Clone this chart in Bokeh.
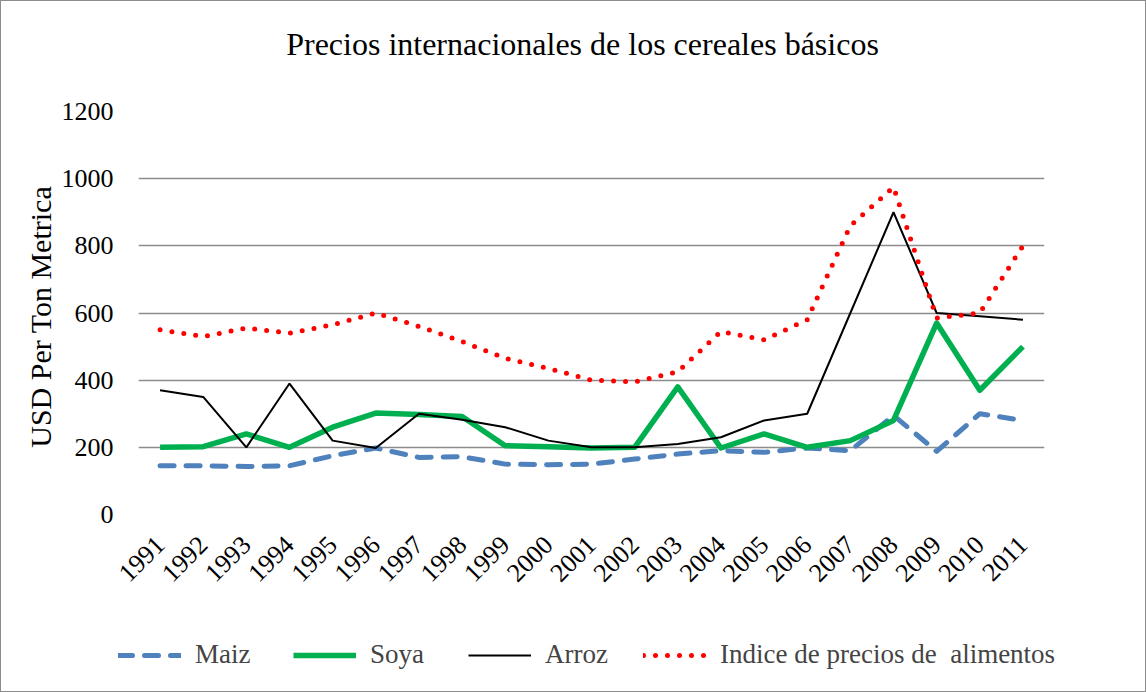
from bokeh.plotting import figure
from bokeh.models import ColumnDataSource, Legend, LegendItem, FixedTicker, Range1d, Title
from bokeh.layouts import column
from bokeh.embed import file_html
from bokeh.resources import INLINE
import math

years = [str(y) for y in range(1991, 2012)]
maiz = [145, 145, 143, 145, 175, 198, 170, 172, 150, 148, 150, 165, 180, 190, 185, 198, 190, 295, 188, 300, 280]
soya = [200, 202, 240, 200, 260, 302, 298, 292, 205, 202, 198, 200, 380, 198, 240, 200, 220, 280, 570, 370, 500]
arroz = [370, 350, 200, 390, 220, 198, 300, 282, 260, 220, 200, 200, 210, 230, 280, 300, 600, 900, 600, 590, 580]
indice = [550, 530, 555, 540, 565, 600, 560, 515, 465, 435, 400, 395, 425, 545, 520, 580, 860, 975, 585, 600, 800]
y_ticks = [0, 200, 400, 600, 800, 1000, 1200]
series_cols = ["maiz", "soya", "arroz", "indice"]
series_names = ["Maiz", "Soya", "Arroz", "Indice de precios de  alimentos"]
title_text = "Precios internacionales de los cereales básicos"

FONT = "Liberation Serif"
STYLES = [
    dict(line_color="#4F81BD", line_width=5, line_dash="14 12", line_cap="round", line_join="round"),
    dict(line_color="#00B050", line_width=5.5, line_join="round"),
    dict(line_color="black", line_width=2),
    dict(line_color="#FF0000", line_width=5, line_dash="0 12", line_cap="round"),
]

src = ColumnDataSource(dict(x=years, maiz=maiz, soya=soya, arroz=arroz, indice=indice))

W = 1144
H_HEAD = 85
H_MAIN = 534
H_LEG = 71


def strip(height, **kw):
    f = figure(width=W, height=height, x_range=years, y_range=Range1d(5000, 6000),
               output_backend="svg", toolbar_location=None,
               x_axis_type=None, y_axis_type=None, **kw)
    f.frame_align = False
    f.outline_line_color = None
    f.xgrid.grid_line_color = None
    f.ygrid.grid_line_color = None
    f.background_fill_color = "white"
    f.border_fill_color = "white"
    return f


# header strip with the title
h = strip(H_HEAD, min_border_left=18, min_border_right=0, min_border_top=0, min_border_bottom=0)
h.title = Title(text=title_text, align="center",
                text_font=FONT, text_font_size="32px", text_font_style="normal",
                text_color="black", standoff=45)

# main chart
p = figure(x_range=years, y_range=Range1d(0, 1200), width=W, height=H_MAIN,
           output_backend="svg", toolbar_location=None, title_location=None,
           min_border_left=137, min_border_right=101, min_border_top=25, min_border_bottom=106)
p.frame_align = False
p.outline_line_color = None
p.background_fill_color = "white"
p.border_fill_color = "white"

p.xgrid.grid_line_color = None
p.ygrid.grid_line_color = "#8c8c8c"
p.ygrid.grid_line_width = 1.5
p.yaxis.ticker = FixedTicker(ticks=y_ticks)

for ax in (p.xaxis[0], p.yaxis[0]):
    ax.axis_line_color = None
    ax.major_tick_line_color = None
    ax.minor_tick_line_color = None
    ax.major_label_text_font = FONT
    ax.major_label_text_font_size = "26px"
    ax.major_label_text_color = "black"

p.yaxis.major_label_standoff = 19
p.xaxis.major_label_orientation = math.pi / 4
p.xaxis.major_label_standoff = 20
p.yaxis.axis_label = "USD  Per Ton Metrica"
p.yaxis.axis_label_text_font = FONT
p.yaxis.axis_label_text_font_size = "30px"
p.yaxis.axis_label_text_font_style = "normal"
p.yaxis.axis_label_text_color = "black"
p.yaxis.axis_label_standoff = 2

for col, st in zip(series_cols, STYLES):
    p.line("x", col, source=src, **st)

# legend strip below the chart (separate figure, so the legend is not clipped by the chart frame)
q = strip(H_LEG, min_border_left=0, min_border_right=0, min_border_top=0, min_border_bottom=0)
items = []
for col, name, st in zip(series_cols, series_names, STYLES):
    r = q.line("x", col, source=src, **st)  # same data, outside this strip's view
    items.append(LegendItem(label=name, renderers=[r]))

legend = Legend(items=items, orientation="horizontal", location=(117, 21))
legend.label_text_font = FONT
legend.label_text_font_size = "27px"
legend.glyph_width = 63
legend.glyph_height = 24
legend.label_height = 24
legend.label_width = 80
legend.label_standoff = 14
legend.spacing = 18
legend.padding = 0
legend.margin = 0
legend.border_line_color = None
legend.background_fill_alpha = 0
q.add_layout(legend, "center")

layout = column(h, p, q, spacing=0)
layout.styles = {"border": "1px solid #8c8c8c"}

open("out.html", "w").write(file_html(layout, INLINE))
